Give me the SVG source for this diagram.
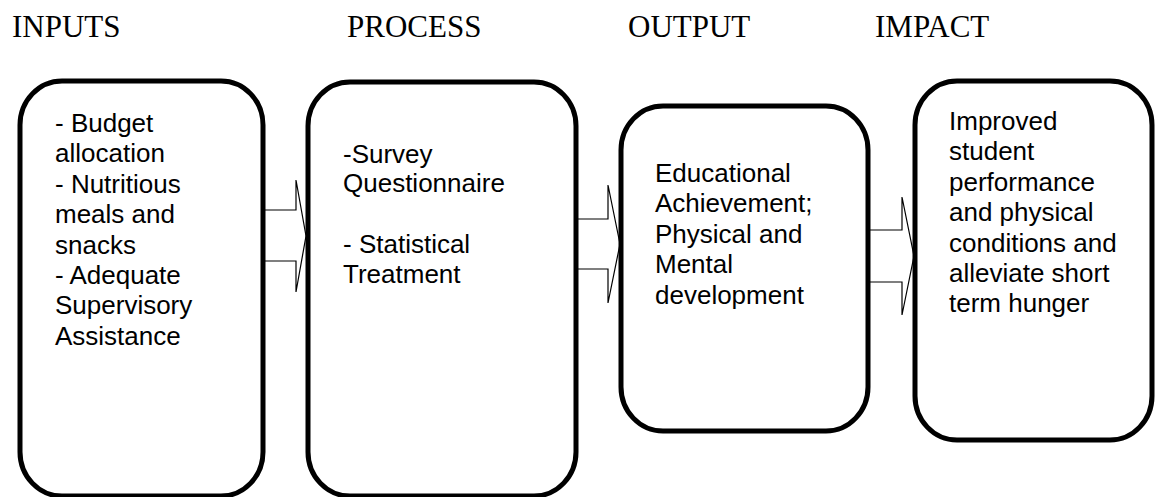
<svg xmlns="http://www.w3.org/2000/svg" width="1155" height="497" viewBox="0 0 1155 497">
  <style>
    .heading { font-family: "Liberation Serif", "Times New Roman", serif; font-size: 31px; fill: #000; }
    .label { font-family: "Liberation Sans", Arial, sans-serif; font-size: 26px; fill: #000; }
    .box { fill: #fff; stroke: #000; stroke-width: 5; }
    .arrow { fill: #fff; stroke: #000; stroke-width: 1.2; stroke-linejoin: miter; }
  </style>
  <rect width="1155" height="497" fill="#fff"/>

  <!-- column headings -->
  <g id="headings">
    <text class="heading" x="12" y="37">INPUTS</text>
    <text class="heading" x="347" y="37">PROCESS</text>
    <text class="heading" x="628" y="37">OUTPUT</text>
    <text class="heading" x="875" y="37">IMPACT</text>
  </g>

  <!-- block arrows between the stages -->
  <g id="connectors">
    <polygon class="arrow" points="258,210 296,210 296,180 306,236 296,292 296,261 258,261"/>
    <polygon class="arrow" points="572,219 608,219 608,185 620,244 608,303 608,269 572,269"/>
    <polygon class="arrow" points="864,230 902,230 902,197 914,256 902,315 902,282 864,282"/>
  </g>

  <g id="inputs">
    <rect class="box" x="20" y="81" width="243" height="415" rx="42" ry="44"/>
    <text class="label">
      <tspan x="55" y="132">- Budget</tspan>
      <tspan x="55" y="162.4">allocation</tspan>
      <tspan x="55" y="192.8">- Nutritious</tspan>
      <tspan x="55" y="223.2">meals and</tspan>
      <tspan x="55" y="253.6">snacks</tspan>
      <tspan x="55" y="284">- Adequate</tspan>
      <tspan x="55" y="314.4">Supervisory</tspan>
      <tspan x="55" y="344.8">Assistance</tspan>
    </text>
  </g>

  <g id="process">
    <rect class="box" x="308" y="82" width="268" height="414" rx="42" ry="44"/>
    <text class="label">
      <tspan x="343" y="162.5">-Survey</tspan>
      <tspan x="343" y="192">Questionnaire</tspan>
      <tspan x="343" y="253">- Statistical</tspan>
      <tspan x="343" y="283.4">Treatment</tspan>
    </text>
  </g>

  <g id="output">
    <rect class="box" x="621" y="106" width="247" height="325" rx="42" ry="44"/>
    <text class="label">
      <tspan x="655" y="182">Educational</tspan>
      <tspan x="655" y="212.4">Achievement;</tspan>
      <tspan x="655" y="242.8">Physical and</tspan>
      <tspan x="655" y="273.2">Mental</tspan>
      <tspan x="655" y="303.6">development</tspan>
    </text>
  </g>

  <g id="impact">
    <rect class="box" x="915" y="81" width="237" height="359" rx="42" ry="44"/>
    <text class="label">
      <tspan x="949" y="130">Improved</tspan>
      <tspan x="949" y="160.4">student</tspan>
      <tspan x="949" y="190.8">performance</tspan>
      <tspan x="949" y="221.2">and physical</tspan>
      <tspan x="949" y="251.6">conditions and</tspan>
      <tspan x="949" y="282">alleviate short</tspan>
      <tspan x="949" y="312.4">term hunger</tspan>
    </text>
  </g>
</svg>
